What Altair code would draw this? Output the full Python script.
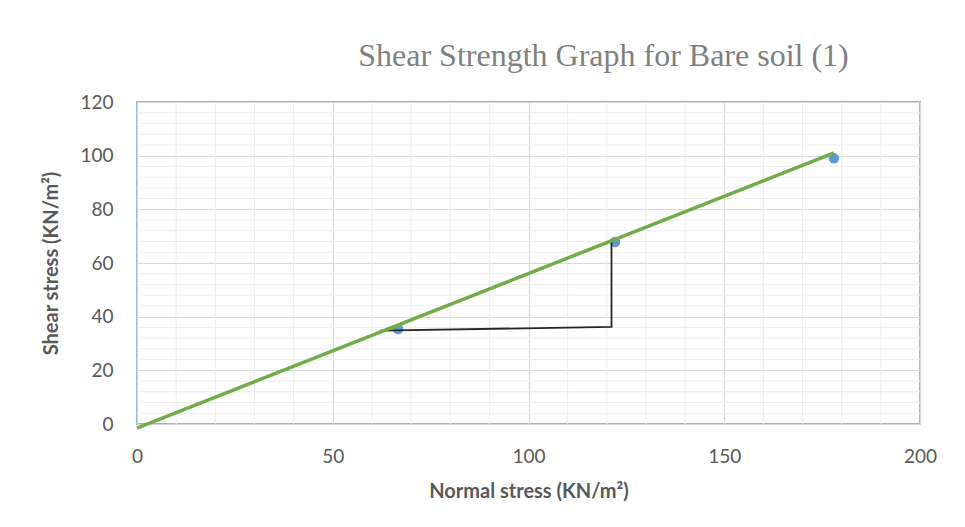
import altair as alt
import pandas as pd

# Observed data points
normal_stress = [66.7, 122.1, 178.0]
shear_stress = [35.4, 67.8, 99.0]

# Fitted failure envelope (end points)
fit_x = [0.0, 178.0]
fit_y = [-1.5, 101.0]

# Slope triangle path
tri_x = [62.0, 121.2, 121.2]
tri_y = [34.8, 36.2, 68.8]

# Minor grid positions
x_minor = [v for v in range(10, 200, 10) if v % 50 != 0]
y_minor = [v for v in range(4, 120, 4) if v % 20 != 0]

pts = pd.DataFrame({"x": normal_stress, "y": shear_stress})
fit = pd.DataFrame({"x": fit_x, "y": fit_y})
tri = pd.DataFrame({"x": tri_x, "y": tri_y, "o": list(range(len(tri_x)))})
gx = pd.DataFrame({"x": x_minor})
gy = pd.DataFrame({"y": y_minor})

xscale = alt.Scale(domain=[0, 200], nice=False)
yscale = alt.Scale(domain=[0, 120], nice=False)

FONT = "Lato"
GREY = "#595959"

xaxis = alt.Axis(values=[0, 50, 100, 150, 200], title="Normal stress (KN/m²)",
                 grid=True, gridColor="#d9d9d9", gridWidth=1.2, ticks=False, domain=False,
                 labelFlush=False,
                 labelFont=FONT, labelFontSize=19, labelColor=GREY, labelPadding=23,
                 titleFont=FONT, titleFontSize=20, titleFontWeight="bold", titleColor=GREY,
                 titlePadding=15)
yaxis = alt.Axis(values=[0, 20, 40, 60, 80, 100, 120], title="Shear stress (KN/m²)",
                 grid=True, gridColor="#d9d9d9", gridWidth=1.2, ticks=False, domain=False,
                 labelFlush=False,
                 labelFont=FONT, labelFontSize=19, labelColor=GREY, labelPadding=24,
                 titleFont=FONT, titleFontSize=20, titleFontWeight="bold", titleColor=GREY,
                 titlePadding=18)

grid_x = alt.Chart(gx).mark_rule(color="#ececec", strokeWidth=1).encode(
    x=alt.X("x:Q", scale=xscale, axis=xaxis))
grid_y = alt.Chart(gy).mark_rule(color="#ececec", strokeWidth=1).encode(
    y=alt.Y("y:Q", scale=yscale, axis=yaxis))

points = alt.Chart(pts).mark_circle(size=110, color="#5b9bd5", opacity=1).encode(
    x=alt.X("x:Q", scale=xscale), y=alt.Y("y:Q", scale=yscale))

tri_line = alt.Chart(tri).mark_line(color="#262626", strokeWidth=1.8).encode(
    x=alt.X("x:Q", scale=xscale), y=alt.Y("y:Q", scale=yscale), order="o:Q")

fit_line = alt.Chart(fit).mark_line(color="#70ad47", strokeWidth=3.5).encode(
    x=alt.X("x:Q", scale=xscale), y=alt.Y("y:Q", scale=yscale))

chart = alt.layer(grid_x, grid_y, points, tri_line, fit_line).properties(
    width=783, height=322,
    autosize=alt.AutoSizeParams(type="none"),
    padding={"left": 137, "top": 102, "right": 45, "bottom": 103},
    background="white",
    title=alt.TitleParams("Shear Strength Graph for Bare soil (1)",
                          font="Liberation Serif", fontSize=32, fontWeight="normal",
                          color="#808080", anchor="middle", dx=75, offset=20),
).configure_view(stroke="#8fb8de", strokeWidth=2)

chart.save("out.html", embed_options={"renderer": "svg", "actions": False})
